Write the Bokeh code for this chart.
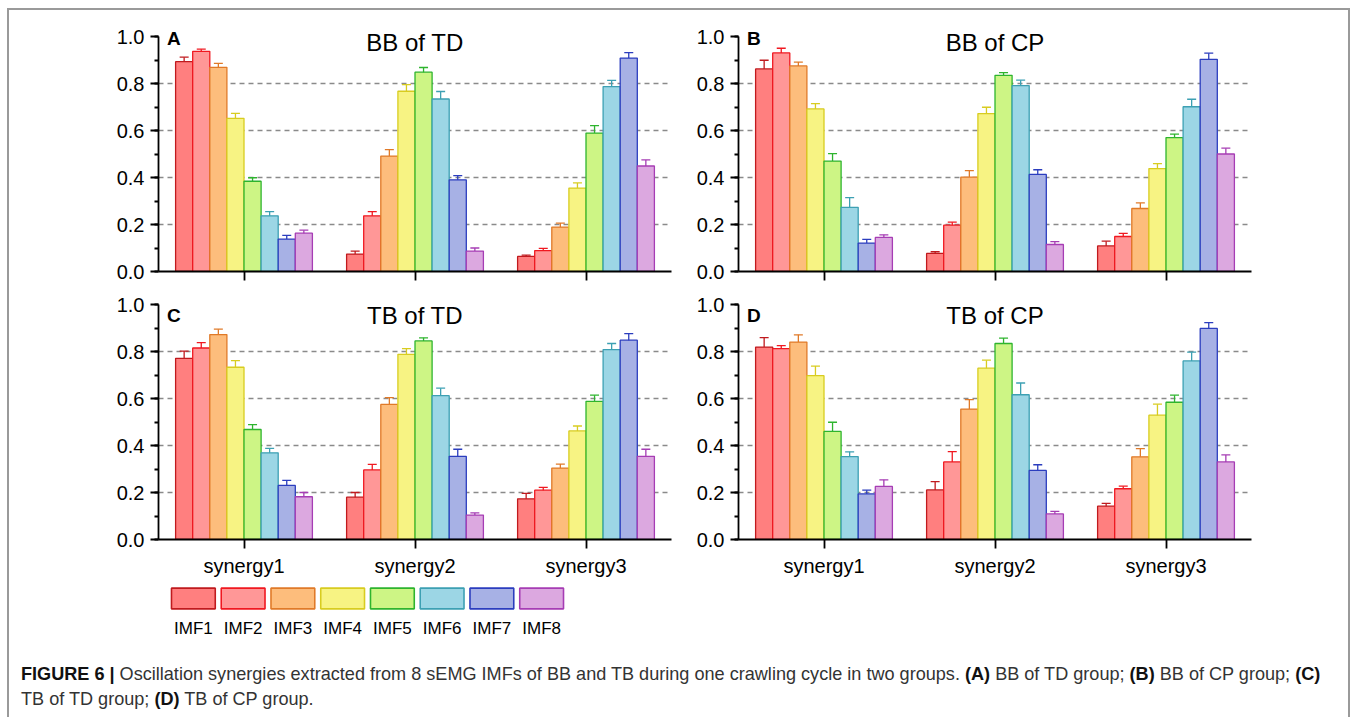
from bokeh.plotting import figure
from bokeh.models import (FactorRange, Range1d, ColumnDataSource, Whisker, TeeHead, Label,
                          FixedTicker, SingleIntervalTicker, PrintfTickFormatter, Div)
from bokeh.layouts import column, row
from bokeh.transform import dodge
from bokeh.embed import file_html
from bokeh.resources import INLINE

SYNERGIES = ["synergy1", "synergy2", "synergy3"]
IMFS = ["IMF1", "IMF2", "IMF3", "IMF4", "IMF5", "IMF6", "IMF7", "IMF8"]
FILL = ["#FF7F7F", "#FF9797", "#FDBD7C", "#F7F383", "#CDF585", "#9CD6E5", "#A7B1E5", "#DCA8E0"]
EDGE = ["#C01A1E", "#F01820", "#E07A28", "#D8CC20", "#2EB42E", "#3DA0B3", "#2B3DBE", "#A63DB4"]

# (A) BB of TD : rows = synergy1..3, columns = IMF1..8
A_MEAN = [[0.893, 0.937, 0.869, 0.652, 0.384, 0.237, 0.138, 0.163],
          [0.074, 0.237, 0.491, 0.767, 0.848, 0.734, 0.390, 0.087],
          [0.064, 0.089, 0.189, 0.355, 0.589, 0.787, 0.908, 0.449]]
A_ERR = [[0.019, 0.009, 0.017, 0.021, 0.015, 0.018, 0.016, 0.013],
         [0.013, 0.018, 0.028, 0.028, 0.020, 0.032, 0.018, 0.013],
         [0.006, 0.009, 0.017, 0.022, 0.032, 0.026, 0.023, 0.026]]
# (B) BB of CP
B_MEAN = [[0.862, 0.930, 0.875, 0.692, 0.470, 0.273, 0.121, 0.145],
          [0.077, 0.197, 0.402, 0.672, 0.835, 0.791, 0.413, 0.115],
          [0.109, 0.149, 0.268, 0.438, 0.570, 0.701, 0.903, 0.500]]
B_ERR = [[0.037, 0.020, 0.016, 0.022, 0.032, 0.041, 0.016, 0.011],
         [0.007, 0.013, 0.027, 0.027, 0.011, 0.023, 0.020, 0.012],
         [0.020, 0.013, 0.024, 0.021, 0.015, 0.032, 0.026, 0.025]]
# (C) TB of TD
C_MEAN = [[0.771, 0.815, 0.872, 0.733, 0.468, 0.369, 0.230, 0.182],
          [0.180, 0.296, 0.575, 0.788, 0.845, 0.612, 0.354, 0.104],
          [0.173, 0.210, 0.304, 0.462, 0.588, 0.808, 0.848, 0.354]]
C_ERR = [[0.031, 0.023, 0.023, 0.028, 0.021, 0.019, 0.022, 0.018],
         [0.020, 0.024, 0.029, 0.024, 0.013, 0.032, 0.030, 0.009],
         [0.023, 0.012, 0.017, 0.021, 0.026, 0.026, 0.028, 0.030]]
# (D) TB of CP
D_MEAN = [[0.819, 0.812, 0.840, 0.697, 0.460, 0.353, 0.194, 0.226],
          [0.211, 0.330, 0.555, 0.729, 0.834, 0.616, 0.294, 0.109],
          [0.142, 0.216, 0.352, 0.529, 0.584, 0.760, 0.898, 0.330]]
D_ERR = [[0.040, 0.013, 0.031, 0.041, 0.039, 0.020, 0.016, 0.028],
         [0.035, 0.044, 0.040, 0.034, 0.023, 0.050, 0.024, 0.011],
         [0.012, 0.011, 0.035, 0.047, 0.030, 0.037, 0.025, 0.030]]

FONT = "Liberation Sans"
FW = 513          # frame width (3 categories)
UNIT = 235        # pixels per 1.0 on the y axis
FH = 247          # frame height (a little headroom above 1.0 for titles)
YTOP = FH / UNIT


def panel(mean, err, title, letter, left, right, top, bottom, show_labels, text_y, letter_y):
    p = figure(x_range=FactorRange(*SYNERGIES, range_padding=0), y_range=Range1d(0, YTOP),
               width=left + FW + right, height=top + FH + bottom,
               min_border_left=left, min_border_right=right,
               min_border_top=top, min_border_bottom=bottom,
               output_backend="svg", toolbar_location=None)
    p.outline_line_color = None
    p.background_fill_color = "white"
    p.border_fill_color = "white"
    for j in range(len(IMFS)):
        off = (j - 3.5) * 0.1
        tops = [mean[g][j] for g in range(3)]
        errs = [err[g][j] for g in range(3)]
        src = ColumnDataSource(dict(x=SYNERGIES, top=tops,
                                    upper=[t + e for t, e in zip(tops, errs)],
                                    lower=[t - e for t, e in zip(tops, errs)]))
        p.vbar(x=dodge("x", off, range=p.x_range), top="top", bottom=0, width=0.1,
               source=src, fill_color=FILL[j], line_color=EDGE[j], line_width=1.3)
        w = Whisker(base=dodge("x", off, range=p.x_range), upper="upper", lower="lower",
                    source=src, line_color=EDGE[j], line_width=1.3,
                    upper_head=TeeHead(size=9, line_color=EDGE[j], line_width=1.3),
                    lower_head=TeeHead(size=9, line_color=EDGE[j], line_width=1.3))
        p.add_layout(w)
    p.xgrid.visible = False
    p.ygrid.ticker = FixedTicker(ticks=[0.2, 0.4, 0.6, 0.8])
    p.ygrid.grid_line_color = "#8a8a8a"
    p.ygrid.grid_line_dash = "5 4"
    p.ygrid.grid_line_width = 1.3

    ya = p.yaxis[0]
    ya.bounds = (0, 1.0)
    ya.ticker = SingleIntervalTicker(interval=0.2, num_minor_ticks=2)
    ya.formatter = PrintfTickFormatter(format="%.1f")
    ya.axis_line_width = 1.8
    ya.major_tick_line_width = 1.8
    ya.minor_tick_line_width = 1.8
    ya.major_tick_out = 8
    ya.major_tick_in = 0
    ya.minor_tick_out = 4
    ya.minor_tick_in = 0
    ya.major_label_text_font = FONT
    ya.major_label_text_font_size = "20px"
    ya.major_label_text_color = "black"
    ya.major_label_standoff = 6

    xa = p.xaxis[0]
    xa.axis_line_width = 1.8
    xa.major_tick_line_width = 1.8
    xa.major_tick_out = 9
    xa.major_tick_in = 0
    xa.minor_tick_line_color = None
    xa.major_label_text_font = FONT
    if show_labels:
        xa.major_label_text_font_size = "20px"
        xa.major_label_text_color = "black"
        xa.major_label_standoff = 6
    else:
        xa.major_label_text_font_size = "2px"
        xa.major_label_text_color = None
        xa.major_label_standoff = 0

    p.add_layout(Label(x=1.5, y=text_y, text=title, text_align="center", text_baseline="middle",
                       text_font=FONT, text_font_size="24px", text_color="black"))
    p.add_layout(Label(x=0.05, y=letter_y, text=letter, text_align="left", text_baseline="middle",
                       text_font=FONT, text_font_size="19px", text_font_style="bold",
                       text_color="black"))
    return p


pA = panel(A_MEAN, A_ERR, "BB of TD", "A", 149, 10, 14, 20, False, 0.974, 0.99)
pB = panel(B_MEAN, B_ERR, "BB of CP", "B", 57, 97, 14, 20, False, 0.974, 0.99)
pC = panel(C_MEAN, C_ERR, "TB of TD", "C", 149, 10, 1, 41, True, 0.955, 0.955)
pD = panel(D_MEAN, D_ERR, "TB of CP", "D", 57, 97, 1, 41, True, 0.955, 0.955)

# legend strip
lg = figure(x_range=FactorRange(*IMFS, range_padding=0), y_range=Range1d(-0.08, 1.08),
            width=159 + 398 + 2, height=6 + 25 + 29,
            min_border_left=159, min_border_right=2, min_border_top=6, min_border_bottom=29,
            output_backend="svg", toolbar_location=None)
lg.outline_line_color = None
lg.grid.visible = False
lg.yaxis.visible = False
lsrc = ColumnDataSource(dict(x=IMFS, fill=FILL, edge=EDGE))
lg.rect(x="x", y=0.5, width=0.88, height=1.0, source=lsrc, fill_color="fill",
        line_color="edge", line_width=1.6)
lx = lg.xaxis[0]
lx.axis_line_color = None
lx.major_tick_line_color = None
lx.minor_tick_line_color = None
lx.major_label_text_font = FONT
lx.major_label_text_font_size = "17px"
lx.major_label_text_color = "black"
lx.major_label_standoff = 2

caption_html = (
    '<div style="font-family:\'Liberation Sans\',Arial,sans-serif;font-size:18.1px;line-height:25px;'
    'color:#333;padding:22px 0 0 12px;white-space:nowrap;">'
    '<b style="color:#111">FIGURE 6 |</b> Oscillation synergies extracted from 8 sEMG IMFs of BB and TB '
    'during one crawling cycle in two groups. <b style="color:#111">(A)</b> BB of TD group; '
    '<b style="color:#111">(B)</b> BB of CP group; <b style="color:#111">(C)</b><br>'
    'TB of TD group; <b style="color:#111">(D)</b> TB of CP group.</div>'
)
caption = Div(text=caption_html, width=1339, height=77, margin=(0, 0, 0, 0))

content = column(row(pA, pB), row(pC, pD), lg, caption)
BAR = "#9a9a9a"
top_bar = Div(text="", width=1343, height=2, margin=(0, 0, 0, 0), styles={"background-color": BAR})
left_bar = Div(text="", width=2, height=707, margin=(0, 0, 0, 0), styles={"background-color": BAR})
right_bar = Div(text="", width=2, height=707, margin=(0, 0, 0, 0), styles={"background-color": BAR})
page = column(top_bar, row(left_bar, content, right_bar), margin=(8, 0, 0, 7))

open("out.html", "w").write(file_html(page, INLINE))
